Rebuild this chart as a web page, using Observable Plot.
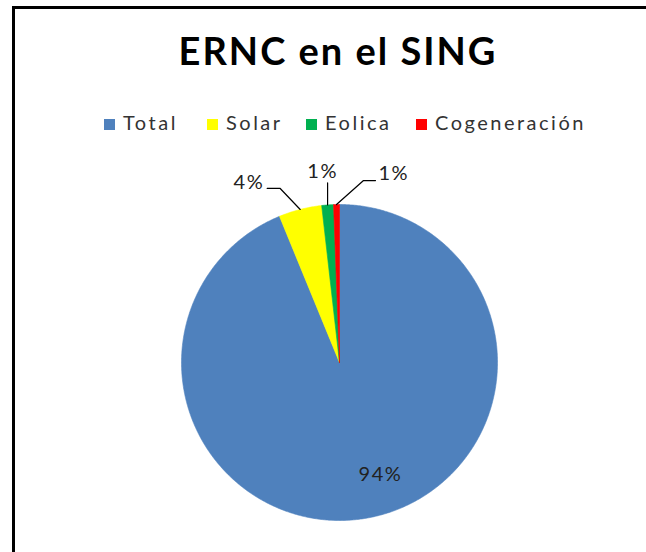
<!DOCTYPE html>
<html>
<head>
<meta charset="utf-8">
<script src="https://cdn.jsdelivr.net/npm/d3@7"></script>
<script src="https://cdn.jsdelivr.net/npm/@observablehq/plot@0.6"></script>
<style>
  html, body { margin: 0; padding: 0; background: #fff; }
  #wrap { position: relative; width: 646px; height: 552px; overflow: hidden; background: #fff; font-family: Lato, "Open Sans", sans-serif; }
  #frame { position: absolute; left: 12px; top: 6px; width: 800px; height: 800px; border-left: 3px solid #000; border-top: 3px solid #000; box-sizing: border-box; }
  #title { position: absolute; left: 12px; width: 652px; top: 31px; text-align: center; font-weight: bold; font-size: 38px; letter-spacing: 2px; line-height: 1; color: #000; }
  .leg { position: absolute; top: 112px; font-size: 20px; line-height: 1; color: #333; letter-spacing: 2.5px; white-space: nowrap; }
  .sw { position: absolute; top: 119px; width: 11px; height: 11px; }
  #chart { position: absolute; left: 0; top: 140px; }
  #chart text { letter-spacing: 1.5px; }
</style>
</head>
<body>
<div id="wrap">
  <div id="frame"></div>
  <div id="title">ERNC en el SING</div>
  <div id="legend"></div>
  <div id="chart"></div>
</div>
<script>
// ---- data ----
const categories = ["Total", "Solar", "Eolica", "Cogeneración"];
const values = [93.8, 4.4, 1.2, 0.6];
const labels = ["94%", "4%", "1%", "1%"];
const colors = ["#4F81BD", "#FFFF00", "#00B050", "#FF0000"];

// ---- layout / style ----
const W = 646, H = 412;
const cx = 339, cy = 222, R = 158;           // pie centre & radius in svg px
const legendX = [104, 207, 306, 416];        // swatch left positions
const leaderStyle = {
  "Solar":        {elbow: [-20, -21], tail: [-13, 0], anchor: "end",    text: [-3, -6]},
  "Eolica":       {elbow: [0, -22],   tail: null,      anchor: "middle", text: [-5, -11]},
  "Cogeneración": {elbow: [27, -24],  tail: [12, 0],   anchor: "start",  text: [3, -7]}
};
const insideStyle = {radius: 0.75, nudge: [18, -4]};

// ---- legend (HTML) ----
const legend = document.getElementById("legend");
categories.forEach((c, i) => {
  const sw = document.createElement("div");
  sw.className = "sw";
  sw.style.left = legendX[i] + "px";
  sw.style.background = colors[i];
  legend.appendChild(sw);
  const t = document.createElement("div");
  t.className = "leg";
  t.style.left = (legendX[i] + 19) + "px";
  t.textContent = c;
  legend.appendChild(t);
});

// ---- pie geometry from values ----
const table = categories.map((c, i) => ({cat: c, value: values[i], label: labels[i]}));
const arcs = d3.pie().sort(null).value(d => d.value)(table);

const polys = [];
arcs.forEach(a => {
  const n = Math.max(2, Math.ceil((a.endAngle - a.startAngle) / (Math.PI / 360)));
  polys.push({cat: a.data.cat, x: 0, y: 0});
  for (let k = 0; k <= n; k++) {
    const t = a.startAngle + (a.endAngle - a.startAngle) * k / n;
    polys.push({cat: a.data.cat, x: Math.sin(t), y: Math.cos(t)});
  }
  polys.push({cat: a.data.cat, x: 0, y: 0});
});

// px offset (screen, y down) -> data units
const off = (p, d) => ({x: p.x + d[0] / R, y: p.y - d[1] / R});

const leaders = [];
const texts = [];
arcs.forEach(a => {
  const mid = (a.startAngle + a.endAngle) / 2;
  const st = leaderStyle[a.data.cat];
  if (st) {
    const p0 = {x: Math.sin(mid), y: Math.cos(mid)};
    const p1 = off(p0, st.elbow);
    const pts = [p0, p1];
    if (st.tail) pts.push(off(p1, st.tail));
    pts.forEach(p => leaders.push({cat: a.data.cat, x: p.x, y: p.y}));
    const last = pts[pts.length - 1];
    const tp = off(last, st.text);
    texts.push({x: tp.x, y: tp.y, text: a.data.label, anchor: st.anchor});
  } else {
    const p = {x: insideStyle.radius * Math.sin(mid), y: insideStyle.radius * Math.cos(mid)};
    const tp = off(p, insideStyle.nudge);
    texts.push({x: tp.x, y: tp.y, text: a.data.label, anchor: "middle"});
  }
});

const textOpts = {x: "x", y: "y", text: "text", fontSize: 20, fill: "#222", fontFamily: "Lato, sans-serif"};

const plot = Plot.plot({
  width: W,
  height: H,
  margin: 0,
  x: {domain: [-cx / R, (W - cx) / R], axis: null},
  y: {domain: [-(H - cy) / R, cy / R], axis: null},
  color: {type: "ordinal", domain: categories, range: colors},
  style: {background: "transparent", overflow: "visible"},
  marks: [
    Plot.line(polys, {x: "x", y: "y", z: "cat", fill: "cat", stroke: "cat", strokeWidth: 0.6, curve: "linear"}),
    Plot.line(leaders, {x: "x", y: "y", z: "cat", stroke: "#000", strokeWidth: 1.2}),
    Plot.text(texts.filter(d => d.anchor === "end"), {...textOpts, textAnchor: "end"}),
    Plot.text(texts.filter(d => d.anchor === "start"), {...textOpts, textAnchor: "start"}),
    Plot.text(texts.filter(d => d.anchor === "middle"), {...textOpts, textAnchor: "middle"})
  ]
});
document.getElementById("chart").appendChild(plot);
</script>
</body>
</html>
